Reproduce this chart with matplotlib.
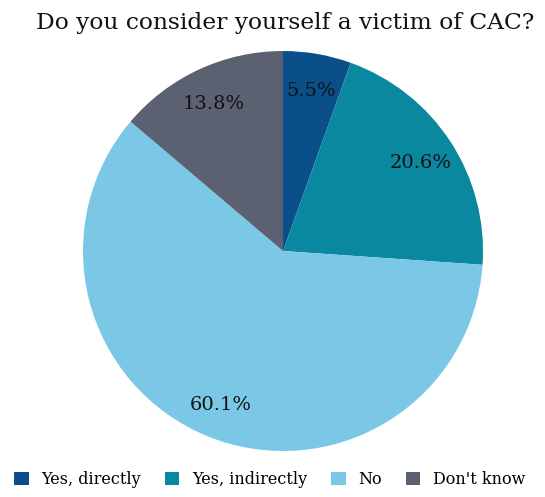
import matplotlib
matplotlib.use("Agg")
import matplotlib.pyplot as plt

labels = ["Yes, directly", "Yes, indirectly", "No", "Don't know"]
values = [5.5, 20.6, 60.1, 13.8]
colors = ["#0b4f8a", "#0a88a0", "#7ac8e6", "#5b6170"]

plt.rcParams["font.family"] = ["DejaVu Serif"]

fig = plt.figure(figsize=(5.45, 4.97), dpi=100)
ax = fig.add_axes([83 / 545, 46 / 497, 400 / 545, 400 / 497])

wedges, texts, autotexts = ax.pie(
    values, colors=colors, startangle=90, counterclock=False,
    autopct="%.1f%%", pctdistance=0.82,
    wedgeprops=dict(linewidth=0),
    textprops=dict(fontsize=14, color="#111111"))
for t in autotexts:
    t.set_va("center_baseline")
ax.set_aspect("equal")
ax.set_xlim(-1, 1)
ax.set_ylim(-1, 1)

fig.text(0.523, 0.953, "Do you consider yourself a victim of CAC?",
         ha="center", va="center", fontsize=16.8, color="#111111")

fig.legend(wedges, labels, loc="center", bbox_to_anchor=(0.495, 0.035),
           ncol=4, frameon=False, fontsize=11.5, handlelength=0.9,
           handleheight=0.9, handletextpad=0.8, columnspacing=1.5)

fig.savefig("out.png", dpi=100)
